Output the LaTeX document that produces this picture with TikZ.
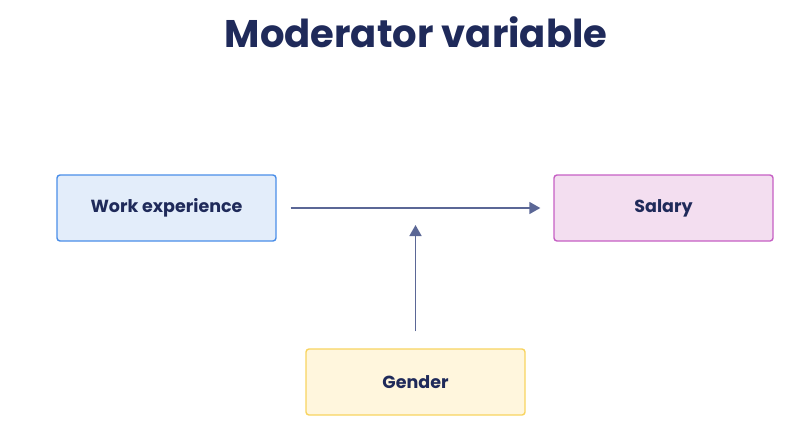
\documentclass[tikz,border=0pt]{standalone}
\usepackage{fontspec}
\setmainfont{Poppins}
\usepackage{tikz}
\usetikzlibrary{arrows.meta, positioning}

\definecolor{navy}{HTML}{1F2A5A}
\definecolor{arrowcol}{HTML}{5B6796}
\definecolor{workfill}{HTML}{E3EDFA}
\definecolor{workline}{HTML}{4A8EE8}
\definecolor{salfill}{HTML}{F3DEF0}
\definecolor{salline}{HTML}{C660C4}
\definecolor{genfill}{HTML}{FFF6DD}
\definecolor{genline}{HTML}{F8D460}

\tikzset{
  varbox/.style={draw, line width=1.4pt, rounded corners=3pt, minimum width=219pt,
    minimum height=66pt, text=navy, font=\fontsize{17.5}{20}\selectfont\bfseries},
  link/.style={draw=arrowcol, line width=1.6pt, -{Triangle[length=11pt,width=12pt]}}
}

\begin{document}
\begin{tikzpicture}[x=1pt,y=-1pt]

            % Khung hình
            \useasboundingbox (0,0) rectangle (802,428);

            % Tiêu đề
            \node[text=navy, font=\fontsize{38.5}{42}\selectfont\bfseries] (title) at (416,32) {Moderator variable};

            % Các biến
            \node[varbox, fill=workfill, draw=workline] (work) at (166.5,208) {Work experience};
            \node[varbox, fill=salfill, draw=salline] (salary) at (663.5,208) {Salary};
            \node[varbox, fill=genfill, draw=genline] (gender) at (415.5,382) {Gender};
            \coordinate (mid) at (gender.north |- work.east); % Điểm giữa

            % Mũi tên
            \draw[link, shorten <=14pt, shorten >=13pt] (work.east) -- (salary.west);
            \draw[link, shorten <=17pt, shorten >=17pt] (gender.north) -- (mid);

\end{tikzpicture}
\end{document}
